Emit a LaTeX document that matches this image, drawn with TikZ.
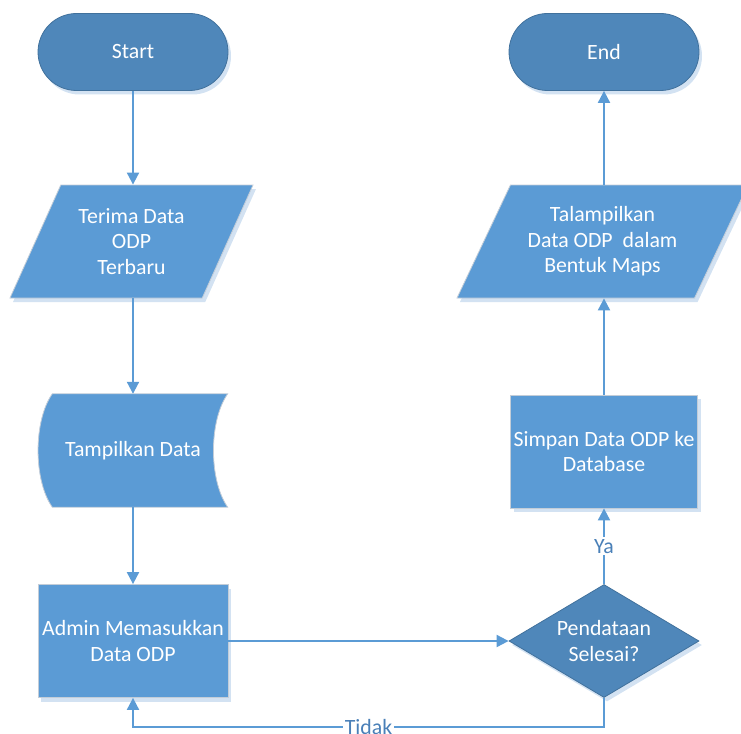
\documentclass[tikz,border=0pt]{standalone}
\usepackage{fontspec}
\setmainfont{Carlito}
\usetikzlibrary{shapes.geometric,shapes.misc,arrows.meta,shadows}
\definecolor{darkfill}{HTML}{4F87BA}
\definecolor{lightfill}{HTML}{5B9BD5}
\definecolor{darkedge}{HTML}{41719C}
\definecolor{lightedge}{HTML}{C3CDD8}
\definecolor{shadowcol}{HTML}{D3E2F2}
\definecolor{linkcol}{HTML}{5B9BD5}
\definecolor{tagcol}{HTML}{4A80B8}
\pgfdeclarelayer{background}
\pgfsetlayers{background,main}
\begin{document}
\begin{tikzpicture}[x=1pt,y=-1pt,
  every node/.style={font=\fontsize{21.8}{25.5}\selectfont, text=white, align=center, inner sep=0pt},
  boxshadow/.style={drop shadow={shadow xshift=3pt, shadow yshift=-4pt, fill=shadowcol, opacity=1}},
  terminal/.style={rounded rectangle, fill=darkfill, draw=darkedge, line width=0.8pt,
    minimum width=190pt, minimum height=77pt, boxshadow},
  process/.style={rectangle, fill=lightfill, draw=lightedge, line width=0.8pt,
    minimum height=113pt, boxshadow},
  io/.style={trapezium, trapezium left angle=52.5, trapezium right angle=127.5,
    trapezium stretches body, fill=lightfill, draw=lightedge, line width=0.8pt,
    minimum height=113pt, boxshadow},
  decision/.style={diamond, aspect=1.68, fill=darkfill, draw=darkedge, line width=0.8pt,
    minimum width=190pt, minimum height=113pt, boxshadow},
  displaybox/.style={fill=lightfill, draw=lightedge, line width=0.8pt},
  link/.style={draw=linkcol, line width=2pt, -{Triangle[width=12pt,length=12pt]}},
  tag/.style={text=tagcol, fill=white, inner sep=2pt}
]
\useasboundingbox (0,0) rectangle (741,733);

% left column
\node[terminal] (start) at (133,52) {Start};
\node[io, minimum width=243pt] (terima) at (131.5,241.5) {Terima Data\\ODP\\Terbaru};
\node[minimum width=189pt, minimum height=113pt] (tampil) at (133,450.5) {Tampilkan Data};
\node[process, minimum width=190pt] (admin) at (133,641) {Admin Memasukkan\\Data ODP};

% right column
\node[terminal] (finish) at (604,52) {End};
\node[io, minimum width=291pt] (maps) at (602.5,241.5) {Talampilkan\\Data ODP~ dalam\\Bentuk Maps};
\node[process, minimum width=187pt] (simpan) at (604,451.5) {Simpan Data ODP ke\\Database};
\node[decision] (cek) at (604,641) {Pendataan\\Selesai?};

% display symbol: convex left side, concave right side
\begin{pgfonlayer}{background}
  \begin{scope}[shift={(3,4)}]
    \fill[shadowcol] ([shift={(14,0)}]tampil.north west) -- (tampil.north east)
      .. controls ([shift={(-19,27)}]tampil.north east) and ([shift={(-19,-27)}]tampil.south east) .. (tampil.south east)
      -- ([shift={(14,0)}]tampil.south west)
      .. controls ([shift={(-5,-27)}]tampil.south west) and ([shift={(-5,27)}]tampil.north west) .. ([shift={(14,0)}]tampil.north west)
      -- cycle;
  \end{scope}
  \path[displaybox] ([shift={(14,0)}]tampil.north west) -- (tampil.north east)
    .. controls ([shift={(-19,27)}]tampil.north east) and ([shift={(-19,-27)}]tampil.south east) .. (tampil.south east)
    -- ([shift={(14,0)}]tampil.south west)
    .. controls ([shift={(-5,-27)}]tampil.south west) and ([shift={(-5,27)}]tampil.north west) .. ([shift={(14,0)}]tampil.north west)
    -- cycle;
\end{pgfonlayer}

% connectors
\draw[link] (start.south) -- (start.south |- terima.north);
\draw[link] (tampil.north |- terima.south) -- (tampil.north);
\draw[link] (tampil.south) -- (admin.north);
\draw[link] (admin.east) -- (cek.west);
\draw[link] (cek.north) -- node[tag] {Ya} (simpan.south);
\draw[link] (simpan.north) -- (simpan.north |- maps.south);
\draw[link] (finish.south |- maps.north) -- (finish.south);
\draw[link] (cek.south) -- ++(0,29) -| node[tag, pos=0.25] {Tidak} (admin.south);
\end{tikzpicture}
\end{document}
